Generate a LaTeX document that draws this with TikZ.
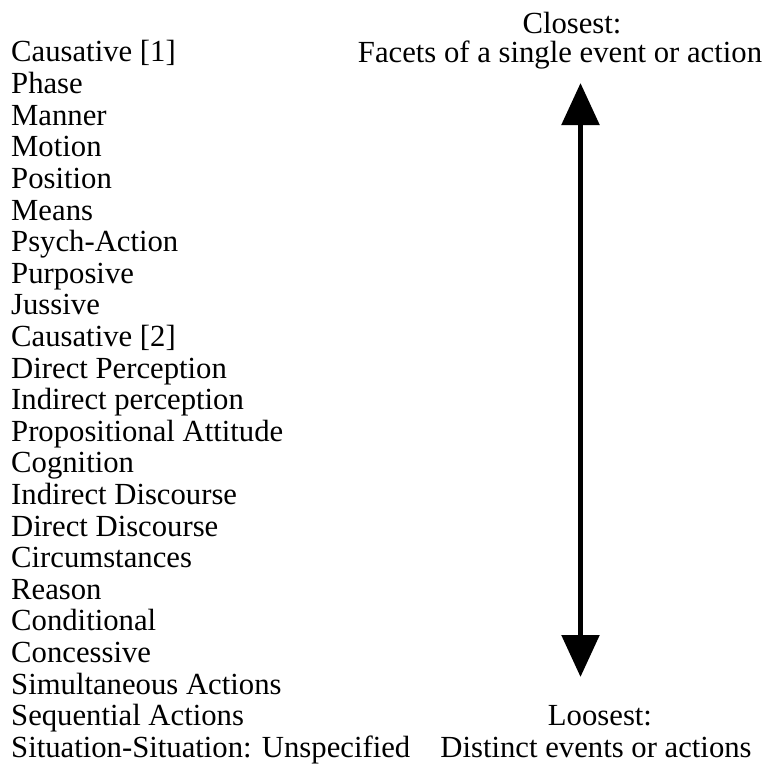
\documentclass[tikz,border=0pt]{standalone}
\usepackage{fontspec}
\setmainfont{Liberation Serif}
\usetikzlibrary{arrows.meta}

\begin{document}
\begin{tikzpicture}[x=1pt,y=-1pt,>={Triangle[length=42pt,width=37pt]},
  every node/.style={inner sep=0pt,font=\fontsize{30.7}{31.6}\selectfont}]
  \useasboundingbox (0,0) rectangle (766,768);
  \foreach \txt [count=\i] in {{Causative [1]},Phase,Manner,Motion,Position,Means,
      Psych-Action,Purposive,Jussive,{Causative [2]},Direct Perception,
      Indirect perception,Propositional Attitude,Cognition,Indirect Discourse,
      Direct Discourse,Circumstances,Reason,Conditional,Concessive,
      Simultaneous Actions,Sequential Actions,Situation-Situation: Unspecified}
    \node[anchor=base west] (k\i) at (11,{62+31.6*(\i-1)}) {\txt};
  \node[anchor=base] (closest) at (572,34) {Closest:};
  \node[anchor=base] (facets) at (560,63) {Facets of a single event or action};
  \node[anchor=base] (loosest) at (600,725) {Loosest:};
  \node[anchor=base] (distinct) at (596,757) {Distinct events or actions};
  \coordinate (tip) at (580.5,83);
  \coordinate (end) at (580.5,677);
  \draw[<->,line width=5.5pt] (end)--(tip);
\end{tikzpicture}
\end{document}
